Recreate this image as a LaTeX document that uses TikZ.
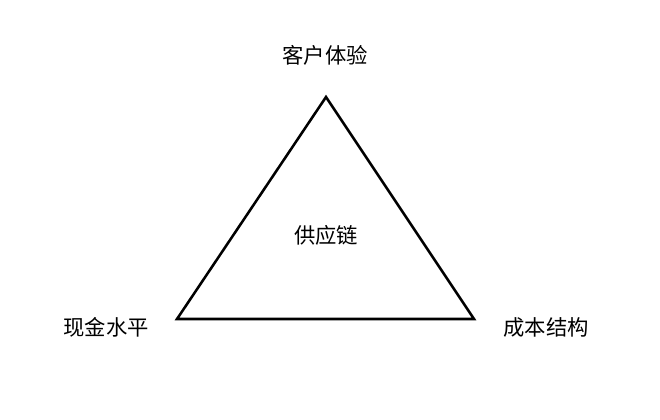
\documentclass[tikz,border=0pt]{standalone}
\usepackage{fontspec}
\setmainfont{Noto Sans CJK SC}

\begin{document}
\begin{tikzpicture}[x=0.75pt, y=-0.75pt, line width=1.9pt, font=\fontsize{16}{19}\selectfont]

\useasboundingbox (0,0) rectangle (660,419);

% Coordinates
\coordinate (top)   at (326,97);
\coordinate (left)  at (177,319);
\coordinate (right) at (474,319);

% Triangle
\draw[line join=miter] (top) -- (right) -- (left) -- cycle;

% Labels
\node (experience) at (325,55)  {客户体验};
\node (cash)       at (106,327) {现金水平};
\node (cost)       at (546,327) {成本结构};
\node (chain)      at (326,235) {供应链};

\end{tikzpicture}
\end{document}
